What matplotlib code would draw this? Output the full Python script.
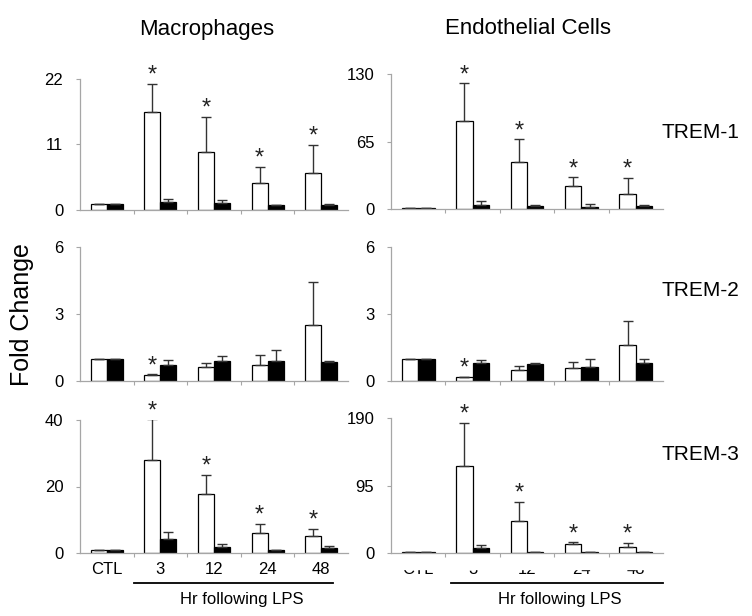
import numpy as np
import matplotlib
matplotlib.use("Agg")
import matplotlib.pyplot as plt
from matplotlib.patches import Rectangle

plt.rcParams.update({
    "font.family": ["Liberation Sans", "DejaVu Sans"],
    "font.size": 12,
})

groups = ["CTL", "3", "12", "24", "48"]

# white bars / black bars, value and upper error (fold change)
mac_t1_white = [1.0, 16.5, 9.8, 4.5, 6.2]
mac_t1_white_err = [0.0, 4.7, 5.9, 2.8, 4.7]
mac_t1_black = [1.0, 1.3, 1.2, 0.9, 0.9]
mac_t1_black_err = [0.0, 0.5, 0.5, 0.0, 0.1]

endo_t1_white = [1.0, 85, 45.6, 21.8, 14.8]
endo_t1_white_err = [0.0, 36, 21.5, 8.7, 15.1]
endo_t1_black = [1.0, 4.2, 2.6, 2.2, 2.6]
endo_t1_black_err = [0.0, 3.5, 1.3, 2.9, 1.3]

mac_t2_white = [1.0, 0.28, 0.61, 0.72, 2.5]
mac_t2_white_err = [0.0, 0.02, 0.21, 0.43, 1.95]
mac_t2_black = [1.0, 0.73, 0.91, 0.91, 0.84]
mac_t2_black_err = [0.0, 0.21, 0.21, 0.47, 0.06]

endo_t2_white = [1.0, 0.16, 0.5, 0.6, 1.6]
endo_t2_white_err = [0.0, 0.02, 0.17, 0.25, 1.1]
endo_t2_black = [1.0, 0.8, 0.76, 0.64, 0.82]
endo_t2_black_err = [0.0, 0.13, 0.06, 0.33, 0.18]

mac_t3_white = [1.0, 27.9, 17.8, 6.1, 5.1]
mac_t3_white_err = [0.0, 12.3, 5.6, 2.7, 2.2]
mac_t3_black = [1.0, 4.1, 1.9, 0.8, 1.4]
mac_t3_black_err = [0.0, 2.3, 0.7, 0.0, 0.8]

endo_t3_white = [1.0, 123, 45.5, 12.7, 8.9]
endo_t3_white_err = [0.0, 60, 26.3, 2.3, 5.1]
endo_t3_black = [1.0, 6.6, 1.9, 1.4, 0.9]
endo_t3_black_err = [0.0, 4.7, 0.0, 0.0, 0.0]

mac_ylims = [22, 6, 40]
endo_ylims = [130, 6, 190]
mac_yticks = [[0, 11, 22], [0, 3, 6], [0, 20, 40]]
endo_yticks = [[0, 65, 130], [0, 3, 6], [0, 95, 190]]
star_rows = [[1, 2, 3, 4], [1], [1, 2, 3, 4]]
trem_labels = ["TREM-1", "TREM-2", "TREM-3"]

mac_data = [
    (mac_t1_white, mac_t1_white_err, mac_t1_black, mac_t1_black_err),
    (mac_t2_white, mac_t2_white_err, mac_t2_black, mac_t2_black_err),
    (mac_t3_white, mac_t3_white_err, mac_t3_black, mac_t3_black_err),
]
endo_data = [
    (endo_t1_white, endo_t1_white_err, endo_t1_black, endo_t1_black_err),
    (endo_t2_white, endo_t2_white_err, endo_t2_black, endo_t2_black_err),
    (endo_t3_white, endo_t3_white_err, endo_t3_black, endo_t3_black_err),
]

W, H = 752, 616
fig = plt.figure(figsize=(W / 100, H / 100), dpi=100)


def px_axes(x0, x1, ytop, ybot):
    return fig.add_axes([x0 / W, 1 - ybot / H, (x1 - x0) / W, (ybot - ytop) / H])


# pixel boxes: (x0, x1, y_top, y_zero)
mac_boxes = [(80, 348, 79, 210), (80, 348, 247, 381), (80, 348, 420, 553)]
endo_boxes = [(391, 663, 74, 209), (391, 663, 247, 381), (391, 663, 418, 553)]

x = np.arange(len(groups))
bw = 0.30
grey = "#a6a6a6"


def draw_panel(ax, data, ylim, yticks, stars, bottom):
    white, werr, black, berr = data
    ekw = dict(ecolor="#333333", elinewidth=1.0, capsize=3.5, capthick=1.0)
    ax.bar(x - bw / 2, white, bw, color="white", edgecolor="black",
           linewidth=0.9, yerr=[np.zeros(5), werr], error_kw=ekw, zorder=2)
    ax.bar(x + bw / 2, black, bw, color="black", edgecolor="black",
           linewidth=0.9, yerr=[np.zeros(5), berr], error_kw=ekw, zorder=2)
    for i in stars:
        ax.annotate("*", xy=(x[i] - bw / 2, white[i] + werr[i]),
                    xytext=(0, -2), textcoords="offset points",
                    ha="center", va="bottom", fontsize=17, color="#222222",
                    annotation_clip=False)
    ax.set_xlim(-0.5, 4.5)
    ax.set_ylim(0, ylim)
    ax.set_yticks(yticks)
    for s in ["top", "right"]:
        ax.spines[s].set_visible(False)
    for s in ["left", "bottom"]:
        ax.spines[s].set_color(grey)
        ax.spines[s].set_linewidth(0.9)
    ax.tick_params(axis="y", length=3, color=grey, labelsize=12, pad=9)
    ax.set_xticks(np.arange(0.5, 4.0, 1.0))
    ax.tick_params(axis="x", length=3, color=grey, labelbottom=False)
    if bottom:
        for i, g in enumerate(groups):
            ax.text(x[i], -0.07, g, transform=ax.get_xaxis_transform(),
                    ha="center", va="top", fontsize=12)


for r in range(3):
    axm = px_axes(*mac_boxes[r])
    draw_panel(axm, mac_data[r], mac_ylims[r], mac_yticks[r], star_rows[r], r == 2)
    axe = px_axes(*endo_boxes[r])
    draw_panel(axe, endo_data[r], endo_ylims[r], endo_yticks[r], star_rows[r], r == 2)
    if r == 2:
        for ax, x0, x1, xc in [(axm, 0.5, 4.22, 2.52), (axe, 0.6, 4.5, 2.6)]:
            ax.plot([x0, x1], [-0.225, -0.225], color="black", lw=1.3,
                    transform=ax.get_xaxis_transform(), clip_on=False)
            ax.text(xc, -0.29, "Hr following LPS", transform=ax.get_xaxis_transform(),
                    ha="center", va="top", fontsize=12)
    fig.text(700 / W, 1 - [133, 290, 455][r] / H, trem_labels[r],
             ha="center", va="center", fontsize=15)

# the right-hand bottom tick labels are clipped at the top in the original
fig.add_artist(Rectangle((395 / W, 1 - 569 / H), 265 / W, 9 / H,
                         transform=fig.transFigure, color="white", zorder=10))

fig.text(207 / W, 1 - 29 / H, "Macrophages", ha="center", va="center", fontsize=16)
fig.text(528 / W, 1 - 29 / H, "Endothelial Cells", ha="center", va="center", fontsize=16)
fig.text(22 / W, 1 - 315 / H, "Fold Change", rotation=90, ha="center",
         va="center", fontsize=18)

fig.savefig("out.png", dpi=100)
